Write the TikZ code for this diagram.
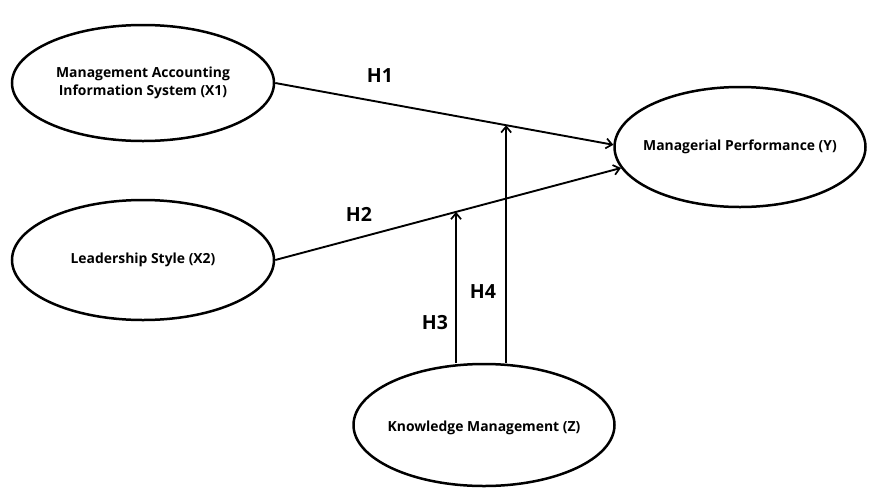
\documentclass[tikz,border=0pt]{standalone}
\usepackage{fontspec}
\setmainfont{Open Sans}
\usetikzlibrary{shapes.geometric,arrows.meta,calc}
\begin{document}
\begin{tikzpicture}[x=1pt,y=-1pt,
  latent/.style={ellipse,draw,line width=2.5pt,inner sep=0pt},
  ltext/.style={align=center,inner sep=0pt,font=\fontsize{13.9}{18}\selectfont\bfseries},
  link/.style={line width=1.9pt,-{Straight Barb[length=6pt,width=10pt,line width=1.7pt]}},
  hlabel/.style={font=\fontsize{19.5}{22}\selectfont\bfseries}]
\useasboundingbox (0,0) rectangle (870,488);
\node[latent,minimum width=262pt,minimum height=116pt] (x1) at (143,83) {};
\node[latent,minimum width=262pt,minimum height=120pt] (x2) at (143,260) {};
\node[latent,minimum width=251pt,minimum height=120pt] (y) at (740,147) {};
\node[latent,minimum width=261pt,minimum height=122pt] (z) at (484,425) {};
\node[ltext] (tx1) at (x1.center) {Management Accounting\\Information System (X1)};
\node[ltext] (tx2) at (x2.center) {Leadership Style (X2)};
\node[ltext] (ty) at (y.center) {Managerial Performance (Y)};
\node[ltext] (tz) at ([yshift=-3pt]z.center) {Knowledge Management (Z)};
\draw[link] (x1.east) -- (y.179) coordinate[pos=0.683] (m1);
\draw[link] (x2.east) -- (y.190) coordinate[pos=0.523] (m2);
\draw[link] (m2 |- z.north) -- (m2);
\draw[link] (m1 |- z.north) -- (m1);
\node[hlabel] (h1) at (380,76) {H1};
\node[hlabel] (h2) at (359,214) {H2};
\node[hlabel] (h3) at (435,323) {H3};
\node[hlabel] (h4) at (483,292) {H4};
\end{tikzpicture}
\end{document}
